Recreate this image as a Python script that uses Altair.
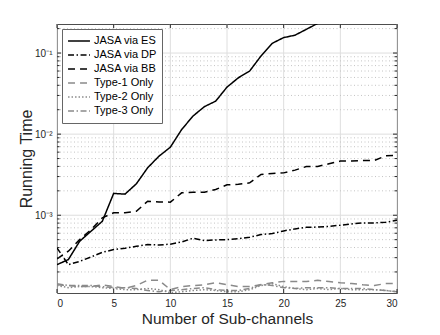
import altair as alt
import pandas as pd

x_all = list(range(0, 31))

es_vals = [2.46e-4, 2.84e-4, 4.78e-4, 6.35e-4, 8.43e-4, 1.86e-3, 1.82e-3, 2.44e-3, 3.85e-3, 5.35e-3,
           6.9e-3, 1.14e-2, 1.67e-2, 2.18e-2, 2.55e-2, 3.8e-2, 4.95e-2, 6.0e-2, 9.2e-2, 0.132,
           0.155, 0.166, 0.196, 0.232]
dp_vals = [3.96e-4, 2.46e-4, 2.7e-4, 3.06e-4, 3.49e-4, 3.77e-4, 3.92e-4, 4.14e-4, 4.35e-4, 4.3e-4,
           4.4e-4, 4.69e-4, 5.2e-4, 4.88e-4, 4.96e-4, 5.0e-4, 5.15e-4, 5.36e-4, 5.78e-4, 5.94e-4,
           6.41e-4, 6.79e-4, 7.1e-4, 7.15e-4, 7.3e-4, 7.53e-4, 7.82e-4, 8.05e-4, 8.05e-4, 8.2e-4, 8.68e-4]
bb_vals = [2.9e-4, 3.6e-4, 5.0e-4, 6.65e-4, 9.3e-4, 1.07e-3, 1.07e-3, 1.12e-3, 1.49e-3, 1.46e-3,
           1.45e-3, 1.89e-3, 1.92e-3, 1.92e-3, 2.08e-3, 2.37e-3, 2.41e-3, 2.51e-3, 3.18e-3, 3.27e-3,
           3.33e-3, 3.6e-3, 3.99e-3, 4.0e-3, 4.31e-3, 4.65e-3, 4.65e-3, 4.73e-3, 4.73e-3, 5.41e-3, 5.45e-3]
t1_vals = [1.39e-4, 1.36e-4, 1.32e-4, 1.32e-4, 1.39e-4, 1.32e-4, 1.26e-4, 1.36e-4, 1.58e-4, 1.58e-4,
           1.21e-4, 1.32e-4, 1.36e-4, 1.39e-4, 1.47e-4, 1.39e-4, 1.32e-4, 1.32e-4, 1.39e-4, 1.47e-4,
           1.53e-4, 1.52e-4, 1.52e-4, 1.58e-4, 1.52e-4, 1.47e-4, 1.44e-4, 1.39e-4, 1.36e-4, 1.44e-4, 1.44e-4]
t2_vals = [1.36e-4, 1.28e-4, 1.32e-4, 1.32e-4, 1.28e-4, 1.25e-4, 1.21e-4, 1.21e-4, 1.25e-4, 1.21e-4,
           1.11e-4, 1.14e-4, 1.18e-4, 1.21e-4, 1.18e-4, 1.14e-4, 1.14e-4, 1.21e-4, 1.36e-4, 1.43e-4,
           1.32e-4, 1.25e-4, 1.21e-4, 1.25e-4, 1.21e-4, 1.25e-4, 1.21e-4, 1.21e-4, 1.21e-4, 1.18e-4, 1.14e-4]
t3_vals = [1.43e-4, 1.36e-4, 1.36e-4, 1.36e-4, 1.32e-4, 1.28e-4, 1.28e-4, 1.25e-4, 1.18e-4, 1.14e-4,
           1.18e-4, 1.21e-4, 1.25e-4, 1.28e-4, 1.21e-4, 1.18e-4, 1.18e-4, 1.25e-4, 1.40e-4, 1.36e-4,
           1.28e-4, 1.25e-4, 1.28e-4, 1.28e-4, 1.28e-4, 1.25e-4, 1.25e-4, 1.25e-4, 1.21e-4, 1.18e-4, 1.14e-4]

series_names = ["JASA via ES", "JASA via DP", "JASA via BB", "Type-1 Only", "Type-2 Only", "Type-3 Only"]
series_vals = [es_vals, dp_vals, bb_vals, t1_vals, t2_vals, t3_vals]

x_ticks = [0, 5, 10, 15, 20, 25, 30]
y_major = [1e-3, 1e-2, 1e-1]
y_minor = [2e-4, 3e-4, 4e-4, 5e-4, 6e-4, 7e-4, 8e-4, 9e-4,
           2e-3, 3e-3, 4e-3, 5e-3, 6e-3, 7e-3, 8e-3, 9e-3,
           2e-2, 3e-2, 4e-2, 5e-2, 6e-2, 7e-2, 8e-2, 9e-2, 2e-1]

rows = []
for name, vals in zip(series_names, series_vals):
    for xi, v in zip(x_all, vals):
        rows.append({"series": name, "x": xi, "y": v})
df = pd.DataFrame(rows)

W, H = 340, 269
ydom = [1.1e-4, 0.228]
xscale = alt.Scale(domain=[0, 30], nice=False, zero=False)
yscale = alt.Scale(type="log", domain=ydom, nice=False)

x_axis = alt.Axis(values=x_ticks, title="Number of Sub-channels", grid=False, domain=False,
                  tickSize=0, labelPadding=5, labelFontSize=10, labelColor="#262626",
                  titleFontSize=15.5, titleFontWeight="normal", titleColor="#262626",
                  titleY=30, titleBaseline="alphabetic")
y_axis = alt.Axis(values=y_major, title="Running Time", grid=False, domain=False,
                  tickSize=0, labelPadding=5, labelFontSize=10, labelColor="#262626",
                  labelExpr="datum.value < 0.005 ? '10\u207b\u00b3' : (datum.value < 0.05 ? '10\u207b\u00b2' : '10\u207b\u00b9')",
                  titleFontSize=16, titleFontWeight="normal", titleColor="#262626",
                  titleX=-26, titleY=H / 2, titleBaseline="alphabetic", titleAngle=-90)

df_major = pd.DataFrame({"v": y_major})
df_minor = pd.DataFrame({"v": y_minor})
df_xt = pd.DataFrame({"v": x_ticks})

minor_grid = alt.Chart(df_minor).mark_rule(color="#c4c4c4", strokeDash=[1, 2.5], strokeWidth=1).encode(
    y=alt.Y("v:Q", scale=yscale, axis=y_axis))
major_grid = alt.Chart(df_major).mark_rule(color="#dedede", strokeWidth=1).encode(
    y=alt.Y("v:Q", scale=yscale, axis=y_axis))
x_grid = alt.Chart(df_xt).mark_rule(color="#dedede", strokeWidth=1).encode(
    x=alt.X("v:Q", scale=xscale, axis=x_axis))

tick_color = "#262626"
yl_major = alt.Chart(df_major).mark_rule(color=tick_color).encode(
    y=alt.Y("v:Q", scale=yscale, axis=y_axis), x=alt.value(0), x2=alt.value(4))
yr_major = alt.Chart(df_major).mark_rule(color=tick_color).encode(
    y=alt.Y("v:Q", scale=yscale, axis=y_axis), x=alt.value(W - 4), x2=alt.value(W))
yl_minor = alt.Chart(df_minor).mark_rule(color=tick_color).encode(
    y=alt.Y("v:Q", scale=yscale, axis=y_axis), x=alt.value(0), x2=alt.value(2.5))
yr_minor = alt.Chart(df_minor).mark_rule(color=tick_color).encode(
    y=alt.Y("v:Q", scale=yscale, axis=y_axis), x=alt.value(W - 2.5), x2=alt.value(W))
xb_ticks = alt.Chart(df_xt).mark_rule(color=tick_color).encode(
    x=alt.X("v:Q", scale=xscale, axis=x_axis), y=alt.value(H - 4), y2=alt.value(H))
xt_ticks = alt.Chart(df_xt).mark_rule(color=tick_color).encode(
    x=alt.X("v:Q", scale=xscale, axis=x_axis), y=alt.value(0), y2=alt.value(4))

legend = alt.Legend(
    orient="none", legendX=5, legendY=5, title=None,
    symbolType="stroke", symbolSize=480, symbolStrokeWidth=1.5,
    labelFontSize=11, labelColor="#000000", labelOffset=3,
    fillColor="white", strokeColor="#666666", padding=5, rowPadding=0,
    clipHeight=13.8, labelFont="Liberation Sans",
)

lines = alt.Chart(df).mark_line(strokeWidth=1.5, clip=True).encode(
    x=alt.X("x:Q", scale=xscale, axis=x_axis),
    y=alt.Y("y:Q", scale=yscale, axis=y_axis),
    color=alt.Color("series:N", scale=alt.Scale(domain=series_names,
                    range=["#000000", "#000000", "#000000", "#8a8a8a", "#8a8a8a", "#8a8a8a"]),
                    legend=legend, sort=series_names),
    strokeDash=alt.StrokeDash("series:N", scale=alt.Scale(domain=series_names,
                    range=[[1, 0], [6, 2.5, 1.5, 2.5], [7, 5], [7, 5], [1.5, 2], [6, 2.5, 1.5, 2.5]]),
                    legend=legend, sort=series_names),
)

chart = alt.layer(
    x_grid, minor_grid, major_grid, lines,
    yl_major, yr_major, yl_minor, yr_minor, xb_ticks, xt_ticks,
).properties(
    width=W, height=H,
    autosize=alt.AutoSizeParams(type="none"),
    padding={"left": 49, "top": 16, "right": 20, "bottom": 34},
).configure(
    font="Liberation Sans",
).configure_view(
    stroke="#4d4d4d", strokeWidth=1,
)

chart.save("out.html", embed_options={"renderer": "svg", "actions": False})
